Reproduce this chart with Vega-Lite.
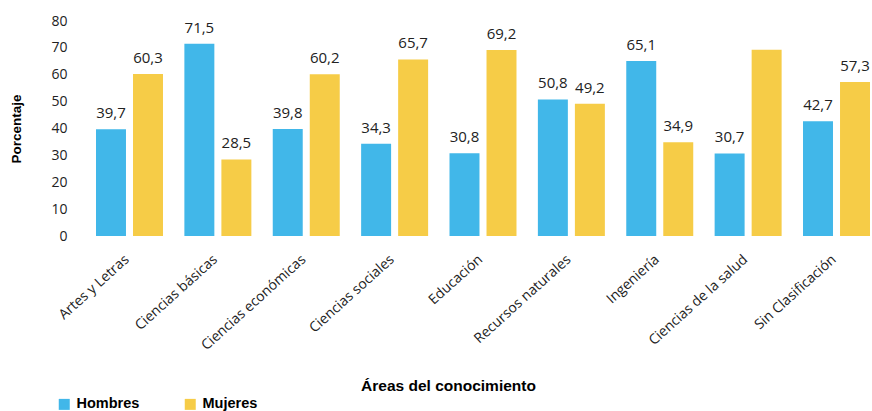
{
  "$schema": "https://vega.github.io/schema/vega-lite/v6.json",
  "width": 774,
  "height": 215,
  "autosize": "none",
  "padding": {"left": 96, "top": 21, "right": 2, "bottom": 175},
  "background": "white",
  "config": {
    "locale": {"number": {"decimal": ",", "thousands": ".", "grouping": [3], "currency": ["", " €"]}},
    "view": {"stroke": null},
    "font": "Open Sans"
  },
  "data": {
    "values": [
      {"area": "Artes y Letras", "sexo": "Hombres", "valor": 39.7},
      {"area": "Artes y Letras", "sexo": "Mujeres", "valor": 60.3},
      {"area": "Ciencias básicas", "sexo": "Hombres", "valor": 71.5},
      {"area": "Ciencias básicas", "sexo": "Mujeres", "valor": 28.5},
      {"area": "Ciencias económicas", "sexo": "Hombres", "valor": 39.8},
      {"area": "Ciencias económicas", "sexo": "Mujeres", "valor": 60.2},
      {"area": "Ciencias sociales", "sexo": "Hombres", "valor": 34.3},
      {"area": "Ciencias sociales", "sexo": "Mujeres", "valor": 65.7},
      {"area": "Educación", "sexo": "Hombres", "valor": 30.8},
      {"area": "Educación", "sexo": "Mujeres", "valor": 69.2},
      {"area": "Recursos naturales", "sexo": "Hombres", "valor": 50.8},
      {"area": "Recursos naturales", "sexo": "Mujeres", "valor": 49.2},
      {"area": "Ingeniería", "sexo": "Hombres", "valor": 65.1},
      {"area": "Ingeniería", "sexo": "Mujeres", "valor": 34.9},
      {"area": "Ciencias de la salud", "sexo": "Hombres", "valor": 30.7},
      {"area": "Ciencias de la salud", "sexo": "Mujeres", "valor": 69.3},
      {"area": "Sin Clasificación", "sexo": "Hombres", "valor": 42.7},
      {"area": "Sin Clasificación", "sexo": "Mujeres", "valor": 57.3}
    ]
  },
  "encoding": {
    "x": {
      "field": "area",
      "type": "nominal",
      "sort": null,
      "scale": {"paddingInner": 0.242, "paddingOuter": 0},
      "axis": {
        "title": "Áreas del conocimiento",
        "titleFont": "Liberation Sans",
        "titleFontWeight": "bold",
        "titleFontSize": 15.5,
        "titleColor": "#000000",
        "titleBaseline": "alphabetic",
        "titleY": 154,
        "titleX": 352,
        "labelAngle": -42,
        "labelFontSize": 14,
        "labelColor": "#222222",
        "labelPadding": 16,
        "labelOffset": -7,
        "domain": false,
        "ticks": false
      }
    },
    "xOffset": {"field": "sexo", "type": "nominal", "scale": {"paddingInner": 0.19}},
    "y": {
      "field": "valor",
      "type": "quantitative",
      "scale": {"domain": [0, 80], "nice": false},
      "axis": {
        "title": "Porcentaje",
        "titleFont": "Liberation Sans",
        "titleFontWeight": "bold",
        "titleFontSize": 13.5,
        "titleColor": "#000000",
        "titleX": -80,
        "titleBaseline": "middle",
        "values": [0, 10, 20, 30, 40, 50, 60, 70, 80],
        "labelFontSize": 14,
        "labelColor": "#222222",
        "labelPadding": 29,
        "domain": false,
        "ticks": false,
        "grid": false
      }
    }
  },
  "layer": [
    {
      "mark": {"type": "bar"},
      "encoding": {
        "color": {
          "field": "sexo",
          "type": "nominal",
          "scale": {"domain": ["Hombres", "Mujeres"], "range": ["#41B7E9", "#F6CC47"]},
          "legend": {
            "title": null,
            "orient": "none",
            "direction": "horizontal",
            "legendX": -39,
            "legendY": 376,
            "symbolType": "square",
            "symbolSize": 121,
            "symbolStrokeWidth": 0,
            "symbolOpacity": 1,
            "labelFont": "Liberation Sans",
            "labelFontWeight": "bold",
            "labelFontSize": 14.5,
            "labelColor": "#000000",
            "labelOffset": 5,
            "columnPadding": 43
          }
        }
      }
    },
    {
      "transform": [{"filter": "!(datum.area === 'Ciencias de la salud' && datum.sexo === 'Mujeres')"}],
      "mark": {"type": "text", "baseline": "alphabetic", "dy": -11, "fontSize": 15, "color": "#222222"},
      "encoding": {
        "text": {"field": "valor", "type": "quantitative", "format": ".1f"}
      }
    }
  ]
}
